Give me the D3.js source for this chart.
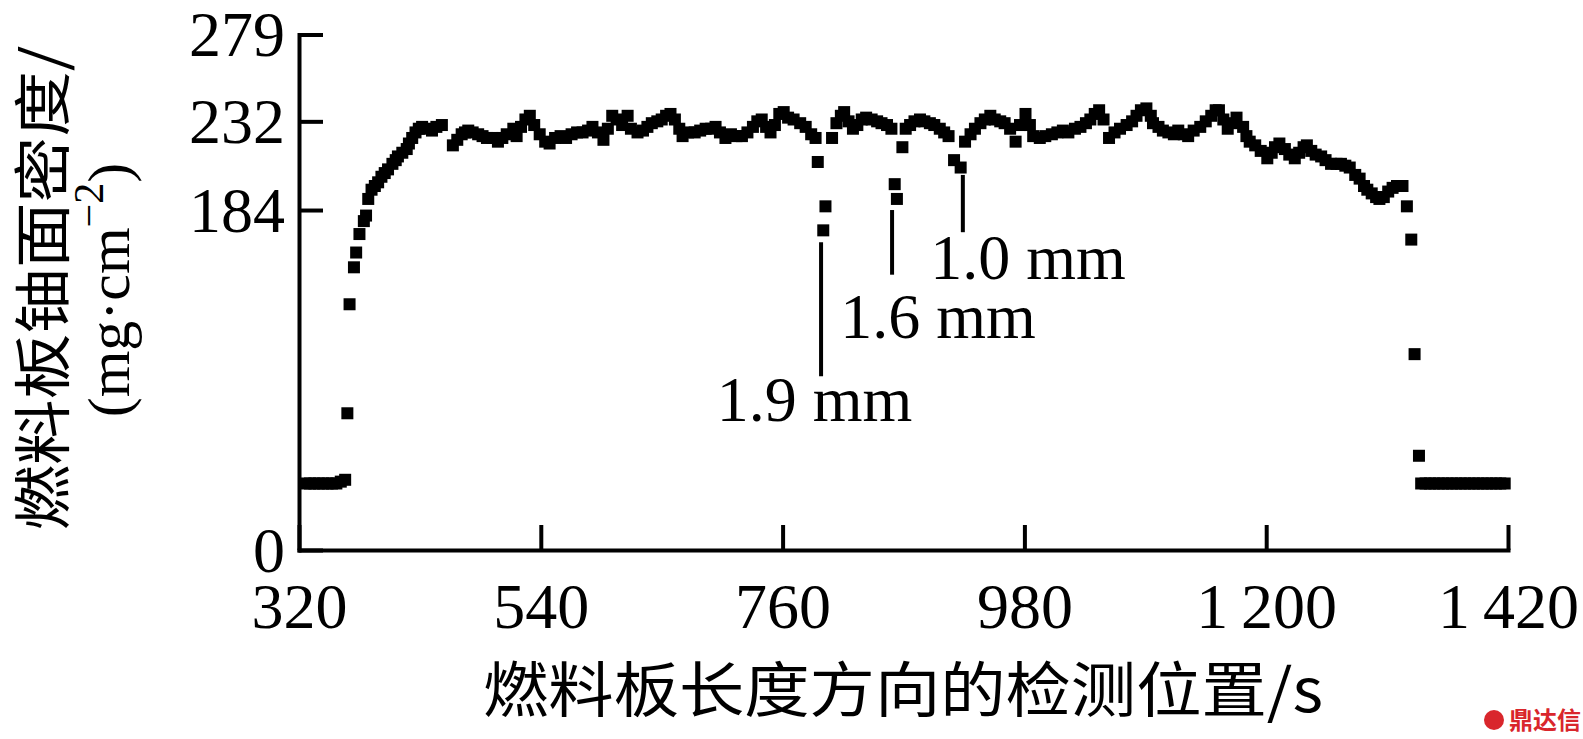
<!DOCTYPE html>
<html><head><meta charset="utf-8">
<script src="https://cdn.jsdelivr.net/npm/d3@7"></script>
<style>html,body{margin:0;padding:0;background:#fff;overflow:hidden}</style>
</head><body><svg id="c" width="1583" height="739"></svg>
<script>
const xTickValues = [320, 540, 760, 980, 1200, 1420];
const xTickLabels = ["320", "540", "760", "980", "1\u2009200", "1\u2009420"];
const yTickValues = [0, 184, 232, 279];
const yTickLabels = ["0", "184", "232", "279"];
const xTitle = "燃料板长度方向的检测位置/s";
const yTitleLine1 = "燃料板铀面密度/";

const positions = [
 326,330,334,338,342,346,350,354,358,362,
 364,366,370,372,375,379,381,383,386,389,392,395,398,401,405,408,410,414,418,420,423,426,429,432,436,441,445,450,
 460,464,468,471,474,478,483,487,491,496,501,505,509,515,518,522,526,530,534,539,544,548,553,558,563,568,573,578,583,587,592,597,
 601,605,609,614,619,622,628,633,637,641,646,650,654,658,662,666,669,674,680,685,690,695,699,
 703,708,713,718,723,728,733,737,741,745,749,753,757,761,765,770,776,781,786,790,792,797,799,
 805,809,813,816,820,824,828,832,836,841,846,850,855,859,862,864,869,872,876,880,885,889,894,898,
 903,907,911,916,922,926,931,935,940,944,949,953,958,962,967,972,976,981,985,988,994,999,
 1005,1010,1015,1020,1026,1031,1036,1040,1044,1048,1052,1057,1062,1067,1073,1078,1082,1086,1091,1095,1097,
 1102,1106,1111,1116,1120,1125,1129,1134,1140,1145,1150,1154,1157,1161,1165,1169,1173,1179,1182,1185,1190,1195,
 1201,1205,1208,1212,1217,1221,1226,1230,1234,1237,1241,1245,1250,1254,1259,1264,1268,1272,1276,1281,1285,1289,1292,1296,
 1300,1303,1307,1311,1315,1319,1324,1328,1332,1335,1339,
 1341,1345,1349,1353,1357,1361,1365,1369,1373,1377,1381,1385,1389,1393,1397,1401,1405,1409,1413,1417
];
const density = [
 36,36,36,36,36,36,36,36,37,38,
 74,133,153,161,171,178,181,190,195,197,199,202,204,206,209,211,213,215,217,220,223,226,228,229,228,227,229,230,
 219,222,225,226,227,226,225,224,223,223,221,223,225,228,224,229,233,235,230,225,221,220,223,224,223,225,226,226,227,229,226,222,
 228,235,233,230,235,228,226,227,229,231,232,233,235,236,233,228,224,226,226,227,228,228,229,
 226,223,225,224,224,226,229,232,233,229,226,230,236,237,234,233,231,229,225,223,210,173,186,
 223,231,235,237,232,228,230,233,234,233,232,231,230,228,198,190,218,228,230,232,233,232,231,230,
 228,226,224,211,207,221,225,228,231,233,235,233,232,231,228,221,230,236,230,224,223,224,
 225,226,227,226,228,229,231,233,236,238,233,223,226,228,230,232,235,238,239,235,231,
 229,227,226,225,227,225,224,227,229,232,235,238,238,233,228,231,234,229,224,221,219,216,
 212,215,218,220,217,214,212,215,218,219,216,214,213,211,209,209,209,208,207,203,201,197,195,193,
 191,190,191,194,196,197,197,186,168,106,51,
 36,36,36,36,36,36,36,36,36,36,36,36,36,36,36,36,36,36,36,36
];

const annotLabels = ["1.9 mm", "1.6 mm", "1.0 mm"];
const annotLineX = [795, 859.6, 924];
const annotLineTop = [166.5, 184, 203];
const annotLineBottom = [94, 149, 172];
const annotTextX = [789, 901.4, 983.3];
const annotTextY = [70, 115, 146.5];

const serif = "'Liberation Serif','Times New Roman',serif";
const cjk = "'Noto Sans CJK SC','Noto Sans CJK JP',sans-serif";

const svg = d3.select("#c");
svg.append("rect").attr("width", 1583).attr("height", 739).attr("fill", "#fff");

const x = d3.scaleLinear().domain([320, 1420]).range([299, 1508]);
const y = d3.scaleLinear().domain([0, 279]).range([550, 34.5]);

// x axis
const xAxis = d3.axisBottom(x).tickValues(xTickValues)
  .tickFormat((d, i) => xTickLabels[i]).tickSizeInner(-25).tickSizeOuter(0);
const gx = svg.append("g").attr("transform", "translate(0,550)").call(xAxis);
gx.select(".domain").attr("stroke", "#000").attr("stroke-width", 4).attr("stroke-linecap", "square");
gx.selectAll(".tick line").attr("stroke", "#000").attr("stroke-width", 4);
gx.selectAll(".tick text").attr("fill", "#000").attr("font-family", serif)
  .attr("font-size", 64).attr("y", 78).attr("dy", 0);

// y axis
const yAxis = d3.axisLeft(y).tickValues(yTickValues)
  .tickFormat((d, i) => yTickLabels[i]).tickSizeInner(-24).tickSizeOuter(0);
const gy = svg.append("g").attr("transform", "translate(299,0)").call(yAxis);
gy.select(".domain").attr("stroke", "#000").attr("stroke-width", 4).attr("stroke-linecap", "square");
gy.selectAll(".tick line").attr("stroke", "#000").attr("stroke-width", 4);
gy.selectAll(".tick text").attr("fill", "#000").attr("font-family", serif)
  .attr("font-size", 64).attr("x", -14).attr("dy", "0.33em");

// data markers
const pts = positions.map((p, i) => ({p, v: density[i]}));
const ms = 12;
svg.append("g").selectAll("rect").data(pts).join("rect")
  .attr("x", d => x(d.p) - ms / 2).attr("y", d => y(d.v) - ms / 2)
  .attr("width", ms).attr("height", ms).attr("fill", "#000");

// annotations
annotLabels.forEach((lab, i) => {
  svg.append("line")
    .attr("x1", x(annotLineX[i])).attr("x2", x(annotLineX[i]))
    .attr("y1", y(annotLineTop[i])).attr("y2", y(annotLineBottom[i]))
    .attr("stroke", "#000").attr("stroke-width", 4);
  svg.append("text").attr("x", x(annotTextX[i])).attr("y", y(annotTextY[i]))
    .attr("text-anchor", "middle").attr("font-family", serif).attr("font-size", 64)
    .attr("fill", "#000").text(lab);
});

// x title
svg.append("text").attr("x", 903).attr("y", 712).attr("text-anchor", "middle")
  .attr("font-family", cjk).attr("font-size", 60).attr("fill", "#000")
  .attr("textLength", 840).attr("lengthAdjust", "spacingAndGlyphs").text(xTitle);

// y title
svg.append("text").attr("transform", "translate(64,288) rotate(-90)")
  .attr("text-anchor", "middle").attr("font-family", cjk).attr("font-size", 58)
  .attr("fill", "#000").attr("textLength", 485).attr("lengthAdjust", "spacingAndGlyphs").text(yTitleLine1);
const yt2 = svg.append("text").attr("transform", "translate(129,290) rotate(-90)")
  .attr("text-anchor", "middle").attr("font-family", serif).attr("font-size", 60).attr("fill", "#000");
yt2.append("tspan").text("(mg·cm");
yt2.append("tspan").attr("font-size", 42).attr("dy", -26).text("−2");
yt2.append("tspan").attr("dy", 26).text(")");

// watermark
const wm = svg.append("g").attr("transform", "translate(1484,720)");
wm.append("circle").attr("cx", 10).attr("cy", 0).attr("r", 10).attr("fill", "#d9262c");
wm.append("text").attr("x", 25).attr("y", 9).attr("font-family", cjk).attr("font-weight", "bold")
  .attr("font-size", 24).attr("fill", "#d9262c").text("鼎达信");
</script>
</body></html>
